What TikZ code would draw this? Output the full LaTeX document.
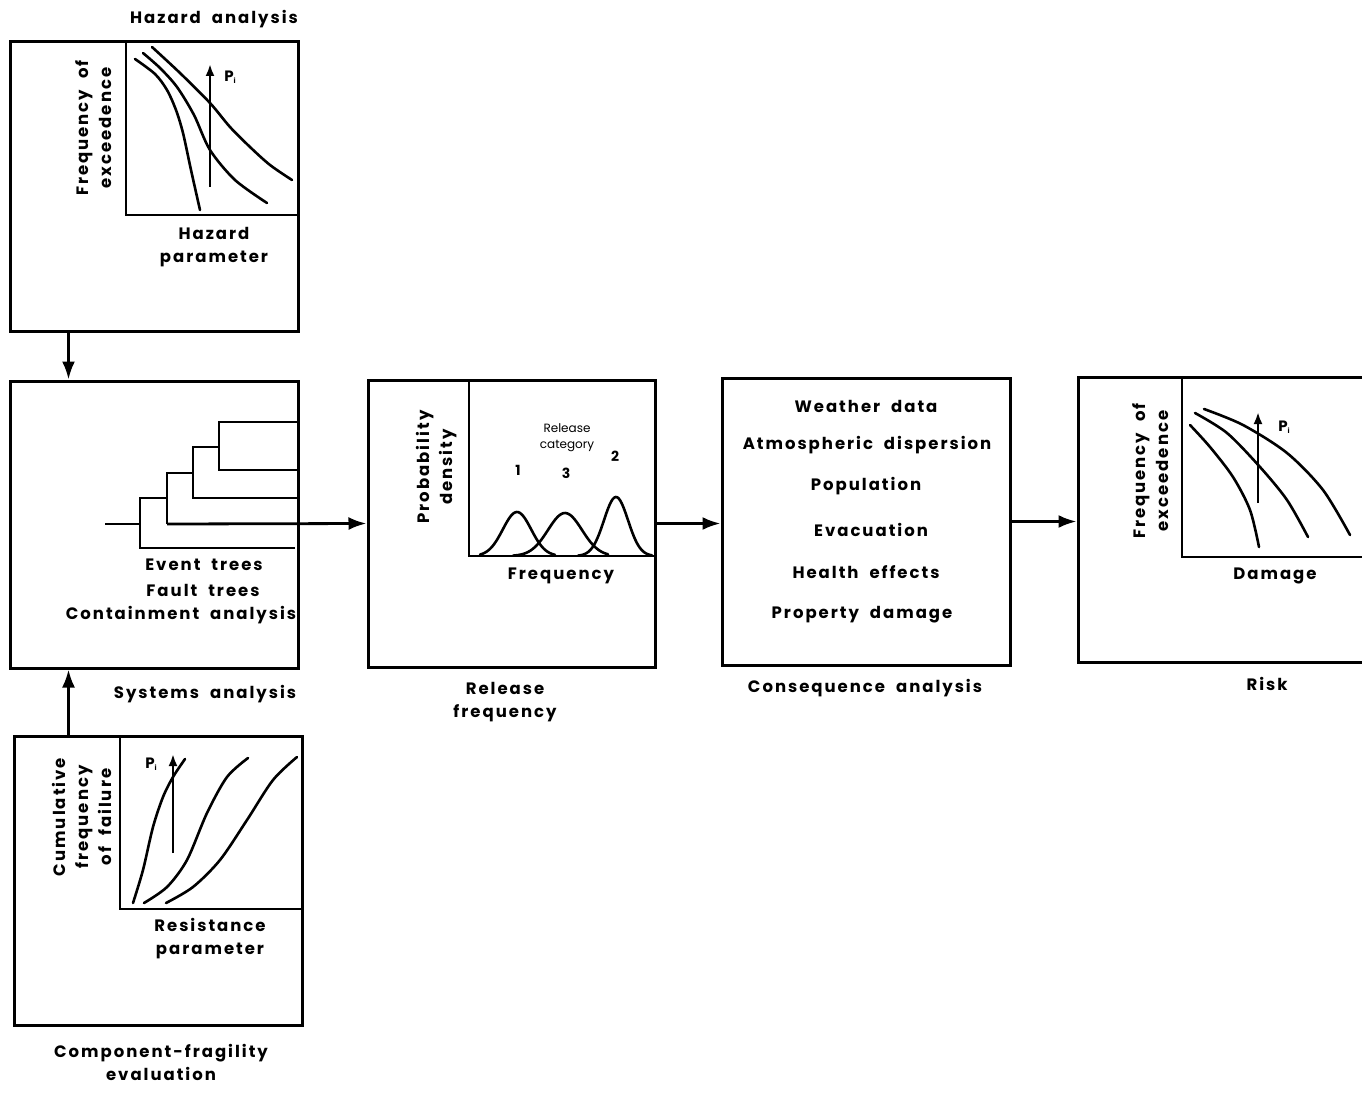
\documentclass[tikz,border=0pt]{standalone}
\usepackage{fontspec}
\setmainfont{Poppins}[LetterSpace=12, WordSpace=2.0]
\newfontfamily\plainpop{Poppins}
\usetikzlibrary{arrows.meta}
\tikzset{
  box/.style={draw, line width=3pt, rectangle, inner sep=0pt},
  pbox/.style={draw, line width=2.8pt, rectangle, inner sep=0pt},
  lab/.style={font=\fontsize{16.5}{23}\selectfont\bfseries, align=center, inner sep=0pt},
  small/.style={font=\plainpop\fontsize{12}{16}\selectfont, align=center, inner sep=0pt},
  num/.style={font=\plainpop\fontsize{14}{14}\selectfont\bfseries, inner sep=0pt},
  pl/.style={font=\plainpop\fontsize{15}{15}\selectfont\bfseries, inner sep=0pt},
  curve/.style={line width=2.6pt, line cap=round},
  tree/.style={line width=2.6pt},
  arr/.style={line width=2.8pt, -{Latex[length=18pt,width=13pt]}},
  parr/.style={line width=2.4pt, -{Latex[length=12pt,width=9pt]}},
}
\begin{document}
\begin{tikzpicture}[x=1pt,y=-1pt]
\useasboundingbox (0,0) rectangle (1362,1094);

% ---------- boxes ----------
\node[box, minimum width=288, minimum height=289] (b1) at (154,186.5) {};
\node[pbox, minimum width=172, minimum height=173] (b1p) at (212,128.5) {};
\node[box, minimum width=288, minimum height=287] (b2) at (154,524.5) {};
\node[box, minimum width=287, minimum height=287] (b3) at (511.5,523.5) {};
\node[pbox, minimum width=186, minimum height=176] (b3p) at (562,468) {};
\node[box, minimum width=288, minimum height=287] (b5) at (866,521.5) {};
\node[box, minimum width=297, minimum height=285] (b6) at (1226.5,519.5) {};
\node[pbox, minimum width=193, minimum height=180] (b6p) at (1278.5,467) {};
\node[box, minimum width=288, minimum height=289] (b4) at (158,880.5) {};
\node[pbox, minimum width=182, minimum height=173] (b4p) at (211,822.5) {};

% ---------- hazard analysis ----------
\node[lab] (t1) at (214,19) {Hazard analysis};
\node[lab, rotate=90] (y1) at (94,128) {Frequency of\\exceedence};
\node[lab] (x1) at (214,247) {Hazard\\parameter};
\draw[curve] plot[smooth] coordinates {(135,59) (155,74) (167,90) (176,110) (183,133) (191,170) (200,210)};
\draw[curve] plot[smooth] coordinates {(143,53) (160,68) (177,87) (194,115) (210,150) (235,180) (267,203)};
\draw[curve] plot[smooth] coordinates {(152,47) (180,73) (210,103) (230,127) (250,147) (270,165) (292,180)};
\coordinate (h0) at (210,187);
\coordinate (h1) at (210,64);
\draw[parr] (h0) -- (h1);
\node[pl] (p1) at (230,77) {P\raisebox{-2pt}{\scriptsize i}};

% ---------- systems analysis ----------
\draw[tree] (105,524) -- (140,524);
\draw[tree] (295,548) -- (140,548) -- (140,498) -- (167,498);
\draw[tree] (167,524) -- (167,473) -- (193,473);
\draw[tree] (298,498) -- (193,498) -- (193,447) -- (219,447);
\draw[tree] (298,470) -- (219,470) -- (219,422) -- (298,422);
\coordinate (et) at (167,524);
\node[lab] (t2a) at (204,565) {Event trees};
\node[lab] (t2b) at (203,590) {Fault trees};
\node[lab] (t2c) at (181,615) {Containment analysis};
\node[lab] (t2) at (205,694) {Systems analysis};

% ---------- fragility ----------
\node[lab, rotate=90] (y4) at (82,817) {\fontsize{16.5}{20.5}\selectfont Cumulative\\frequency\\of failure};
\node[lab] (x4) at (210,939) {Resistance\\parameter};
\node[lab] (t4) at (161,1062) {Component-fragility\\evaluation};
\draw[curve] plot[smooth] coordinates {(133,903) (143,870) (153,827) (163,797) (173,777) (185,759)};
\draw[curve] plot[smooth] coordinates {(144,903) (167,887) (187,860) (207,813) (227,777) (248,758)};
\draw[curve] plot[smooth] coordinates {(166,903) (193,887) (220,860) (247,820) (273,780) (297,757)};
\coordinate (f0) at (173,853);
\coordinate (f1) at (173,754);
\draw[parr] (f0) -- (f1);
\node[pl] (p4) at (151,764) {P\raisebox{-2pt}{\scriptsize i}};

% ---------- release frequency ----------
\node[lab, rotate=90] (y3) at (437,467) {Probability\\density};
\node[small] (rc) at (567,438) {Release\\category};
\node[num] (n1) at (518,470) {1};
\node[num] (n3) at (566,473) {3};
\node[num] (n2) at (615,456) {2};
\draw[curve] plot[domain=480:555,samples=50] (\x,{556-44*exp(-((\x-517)/20)^2)});
\draw[curve] plot[domain=513:608,samples=50] (\x,{556-43*exp(-((\x-565)/24)^2)});
\draw[curve] plot[domain=578:652,samples=50] (\x,{556-59*exp(-((\x-616)/17)^2)});
\node[lab] (x3) at (561,576) {Frequency};
\node[lab] (t3) at (505,702) {Release\\frequency};

% ---------- consequence ----------
\node[lab] (c1) at (866,406) {Weather data};
\node[lab] (c2) at (867,445) {Atmospheric dispersion};
\node[lab] (c3) at (866,486) {Population};
\node[lab] (c4) at (871,530) {Evacuation};
\node[lab] (c5) at (866,572) {Health effects};
\node[lab] (c6) at (862,615) {Property damage};
\node[lab] (t5) at (865,688) {Consequence analysis};

% ---------- risk ----------
\node[lab, rotate=90] (y6) at (1151,471) {Frequency of\\exceedence};
\node[lab] (x6) at (1275,576) {Damage};
\node[lab] (t6) at (1267,684) {Risk};
\draw[curve] plot[smooth] coordinates {(1190,425) (1210,447) (1233,477) (1250,510) (1259,547)};
\draw[curve] plot[smooth] coordinates {(1195,413) (1227,433) (1260,467) (1287,500) (1308,537)};
\draw[curve] plot[smooth] coordinates {(1204,409) (1243,425) (1287,453) (1323,490) (1350,535)};
\coordinate (r0) at (1258,503);
\coordinate (r1) at (1258,412);
\draw[parr] (r0) -- (r1);
\node[pl] (p6) at (1284,427) {P\raisebox{-2pt}{\scriptsize i}};

% ---------- connectors ----------
\draw[arr] ([xshift=60pt]b1.south west) -- ([xshift=60pt]b2.north west);
\draw[arr] ([xshift=56pt]b4.north west) -- ([xshift=60pt]b2.south west);
\draw[arr] (et) -- (b3.west);
\draw[arr] (b3.east) -- (b3.east -| b5.west);
\draw[arr] (b5.east) -- (b5.east -| b6.west);
\end{tikzpicture}
\end{document}
